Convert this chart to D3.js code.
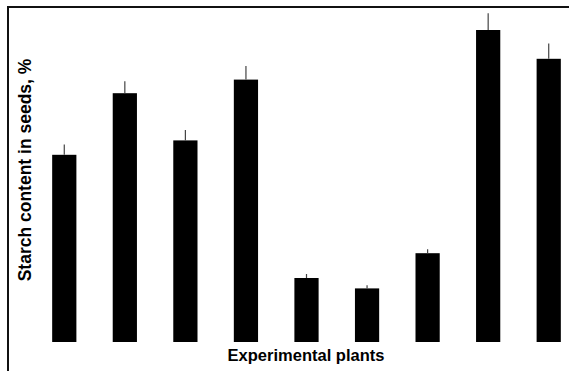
<!DOCTYPE html>
<html>
<head>
<meta charset="utf-8">
<script src="https://cdn.jsdelivr.net/npm/d3@7"></script>
<style>
  body { margin: 0; background: #fff; }
  svg { display: block; }
</style>
</head>
<body>
<div id="chart"></div>
<script>
// Chart data (the y axis has no ticks, so units are estimated)
const plants = ["1", "2", "3", "4", "5", "6", "7", "8", "9"];
const starch = [23.4, 31.1, 25.2, 32.8, 8.0, 6.7, 11.1, 39.0, 35.4];
const errors = [1.3, 1.5, 1.3, 1.7, 0.5, 0.4, 0.5, 2.1, 1.9];

const width = 569, height = 371;

const svg = d3.select('#chart').append('svg')
    .attr('width', width)
    .attr('height', height);

// Frame round the plot (only top and left show in the crop)
svg.append('rect')
    .attr('x', 8)
    .attr('y', 7)
    .attr('width', width + 10)
    .attr('height', height + 10)
    .attr('fill', 'none')
    .attr('stroke', '#111')
    .attr('stroke-width', 2);

const x = d3.scaleBand()
    .domain(plants)
    .range([34, 579])
    .paddingInner(0.6)
    .paddingOuter(0.3);

const y = d3.scaleLinear()
    .domain([0, 40])
    .range([342, 22]);

// Bars
svg.selectAll('rect.bar')
    .data(plants)
    .enter().append('rect')
    .attr('class', 'bar')
    .attr('x', d => x(d))
    .attr('y', (d, i) => y(starch[i]))
    .attr('width', x.bandwidth())
    .attr('height', (d, i) => y(0) - y(starch[i]))
    .attr('fill', '#000');

// Error bars (upper half only)
svg.selectAll('line.err')
    .data(plants)
    .enter().append('line')
    .attr('class', 'err')
    .attr('x1', d => x(d) + x.bandwidth() / 2)
    .attr('x2', d => x(d) + x.bandwidth() / 2)
    .attr('y1', (d, i) => y(starch[i]))
    .attr('y2', (d, i) => y(starch[i] + errors[i]))
    .attr('stroke', '#444')
    .attr('stroke-width', 1.2);

// Axis titles
svg.append('text')
    .attr('x', 306)
    .attr('y', 361)
    .attr('text-anchor', 'middle')
    .attr('font-family', 'Liberation Sans, Arial, sans-serif')
    .attr('font-weight', 'bold')
    .attr('font-size', 16.5)
    .attr('fill', '#000')
    .text('Experimental plants');

svg.append('text')
    .attr('transform', 'translate(31,170) rotate(-90)')
    .attr('text-anchor', 'middle')
    .attr('font-family', 'Liberation Sans, Arial, sans-serif')
    .attr('font-weight', 'bold')
    .attr('font-size', 17.5)
    .attr('fill', '#000')
    .text('Starch content in seeds, %');
</script>
</body>
</html>
